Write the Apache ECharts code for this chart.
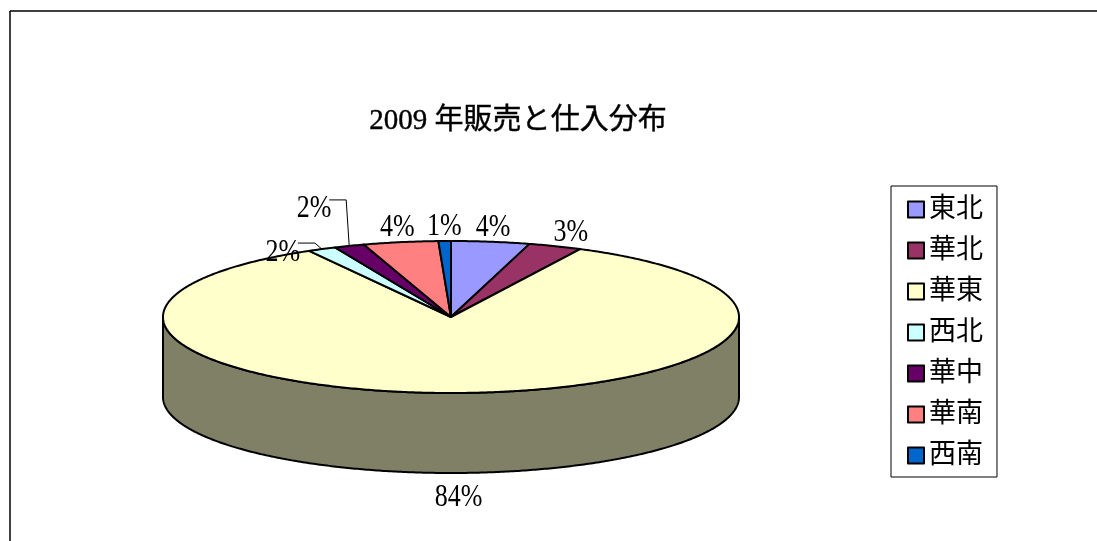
<!DOCTYPE html>
<html>
<head>
<meta charset="utf-8">
<script src="https://cdn.jsdelivr.net/npm/echarts@6/dist/echarts.min.js"></script>
<style>
html,body{margin:0;padding:0;background:#fff;}
#chart{width:1097px;height:541px;}
</style>
</head>
<body>
<div id="chart"></div>
<script>
// ---- data ----
const categories = ['東北', '華北', '華東', '西北', '華中', '華南', '西南'];
const values = [4.4, 3.0, 84.4, 1.6, 1.7, 4.2, 0.7];
const titleText = '2009 年販売と仕入分布';

// ---- palette ----
const palette = ['#9999FF', '#993366', '#FFFFCC', '#CCFFFF', '#660066', '#FF8080', '#0066CC'];

// ---- layout ----
const FONT = "'Liberation Serif', 'Noto Sans CJK JP', serif";
const CX = 451, CY = 317, RX = 288, RY = 76, DEPTH = 80;
const total = values.reduce((a, b) => a + b, 0);

function shade(hex, f) {
  const n = parseInt(hex.slice(1), 16);
  const r = Math.round(((n >> 16) & 255) * f), g = Math.round(((n >> 8) & 255) * f), b = Math.round((n & 255) * f);
  return 'rgb(' + r + ',' + g + ',' + b + ')';
}
function P(t, dy) { return [CX + RX * Math.sin(t), CY - RY * Math.cos(t) + (dy || 0)]; }
function arc(a, b, dy) {
  const pts = [];
  const n = Math.max(2, Math.ceil((b - a) / (Math.PI / 360)));
  for (let i = 0; i <= n; i++) pts.push(P(a + (b - a) * i / n, dy));
  return pts;
}

// label layout tweaks (leader-line labels and nudges), by slice index
const labelNudge = { 1: [9, 0] };
const leaderLabels = {
  4: { line: [[0, 0], [-3, -46], [-20, -46]], text: [-35, -37] },
  3: { line: [[0, 0], [-7, -6], [-24, -6]], text: [-39, 4] }
};

function renderSlice(params, api) {
  const idx = params.dataIndex;
  let cum = 0;
  for (let i = 0; i < idx; i++) cum += values[i];
  const a = cum / total * 2 * Math.PI;
  const b = (cum + values[idx]) / total * 2 * Math.PI;
  const color = palette[idx % palette.length];
  const children = [];

  // side wall (front half only)
  const s = Math.max(a, Math.PI / 2), e = Math.min(b, Math.PI * 1.5);
  if (s < e) {
    const pts = arc(s, e, 0).concat(arc(s, e, DEPTH).reverse());
    children.push({
      type: 'polygon', z2: 1,
      shape: { points: pts },
      style: { fill: shade(color, 0.5), stroke: '#000', lineWidth: 2, lineJoin: 'round' }
    });
  }
  // top face
  children.push({
    type: 'polygon', z2: 2,
    shape: { points: [[CX, CY]].concat(arc(a, b, 0)) },
    style: { fill: color, stroke: '#000', lineWidth: 2, lineJoin: 'round' }
  });

  // label
  const m = (a + b) / 2;
  const pct = Math.round(values[idx] / total * 100) + '%';
  let lx, ly;
  if (leaderLabels[idx]) {
    const anc = P(m, 0);
    const L = leaderLabels[idx];
    children.push({
      type: 'polyline', z2: 3,
      shape: { points: L.line.map(d => [anc[0] + d[0], anc[1] + d[1]]) },
      style: { stroke: '#000', lineWidth: 1, fill: null }
    });
    lx = anc[0] + L.text[0];
    ly = anc[1] + L.text[1];
  } else {
    lx = CX + (RX + 18) * Math.sin(m);
    ly = CY - (RY + 14) * Math.cos(m);
    if (Math.cos(m) < 0) ly += DEPTH + 11 * (-Math.cos(m));
    const nd = labelNudge[idx];
    if (nd) { lx += nd[0]; ly += nd[1]; }
  }
  children.push({
    type: 'text', z2: 4,
    x: lx, y: ly, scaleY: 1.18,
    style: {
      text: pct, x: 0, y: 0, align: 'center', verticalAlign: 'middle',
      font: '26px ' + FONT, fill: '#000'
    }
  });
  return { type: 'group', children: children };
}

const chart = echarts.init(document.getElementById('chart'), null, { renderer: 'canvas' });
chart.setOption({
  backgroundColor: '#fff',
  color: palette,
  animation: false,
  title: {
    text: titleText,
    left: 513, top: 102, textAlign: 'center',
    textStyle: { fontSize: 29, fontWeight: 'normal', fontFamily: FONT, color: '#000', textBorderColor: '#000', textBorderWidth: 0.4 }
  },
  legend: {
    orient: 'vertical',
    left: 891, top: 186,
    padding: [10, 14, 8, 16],
    borderColor: '#000', borderWidth: 1,
    itemWidth: 16, itemHeight: 16, itemGap: 14,
    itemTextGap: 10,
    icon: 'rect',
    itemStyle: { borderColor: '#000', borderWidth: 2 },
    textStyle: { fontSize: 27, fontFamily: FONT, color: '#000', lineHeight: 27 },
    data: categories
  },
  graphic: [
    { type: 'line', shape: { x1: 10, y1: 11, x2: 1097, y2: 11 }, style: { stroke: '#000', lineWidth: 1.5 } },
    { type: 'line', shape: { x1: 10, y1: 11, x2: 10, y2: 541 }, style: { stroke: '#000', lineWidth: 1.5 } }
  ],
  series: [
    {
      // legend provider only (not visible)
      type: 'pie', radius: [0, 0], center: [CX, CY], silent: true,
      label: { show: false }, labelLine: { show: false },
      data: categories.map((c, i) => ({ name: c, value: values[i] }))
    },
    {
      type: 'custom',
      coordinateSystem: 'none',
      renderItem: renderSlice,
      data: categories.map((c, i) => ({ name: c, value: values[i] }))
    }
  ]
});
</script>
</body>
</html>
